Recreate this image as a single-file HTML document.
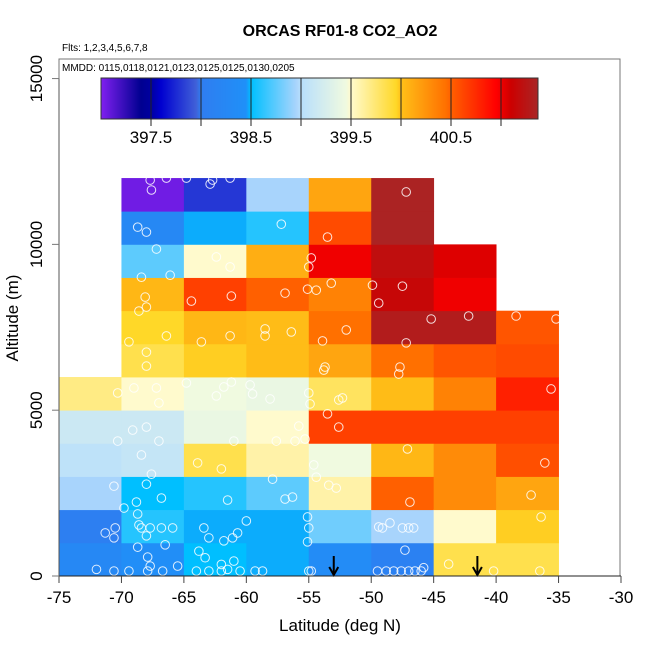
<!DOCTYPE html>
<html><head><meta charset="utf-8"><style>
body{margin:0;background:#fff}
svg text{font-family:"Liberation Sans",sans-serif}
</style></head><body>
<svg id="chart" width="650" height="650" xmlns="http://www.w3.org/2000/svg">
<g id="cells"></g>
<g id="pts"></g>
<g id="axes"></g>
<g id="cbar"></g>
<text x="340" y="36" text-anchor="middle" font-size="16" font-weight="bold">ORCAS RF01-8 CO2_AO2</text>
<text x="62" y="51" font-size="10">Flts: 1,2,3,4,5,6,7,8</text>
<text x="62" y="71" font-size="10">MMDD: 0115,0118,0121,0123,0125,0125,0130,0205</text>
<text x="340" y="631" text-anchor="middle" font-size="17">Latitude (deg N)</text>
<text x="18" y="318" text-anchor="middle" font-size="17" transform="rotate(-90 18 318)">Altitude (m)</text>
</svg>
<script>
const latBins=[-75,-70,-65,-60,-55,-50,-45,-40];
const altBins=[0,1000,2000,3000,4000,5000,6000,7000,8000,9000,10000,11000];
const colM75=[398.25,398.05,398.95,399.05,399.15,399.7];
const colM70=[398.4,398.6,398.5,399.1,399.15,399.5,399.85,399.95,400.05,398.75,398.25,397.05];
const colM65=[398.5,398.48,398.6,399.85,399.4,399.45,399.97,400.05,400.65,399.5,398.48,397.8];
const colM60=[398.48,398.48,398.75,399.6,399.5,399.4,400.02,400.02,400.5,400.1,398.6,398.95];
const colM55=[398.35,398.8,399.6,399.45,400.65,399.8,400.15,400.45,400.35,401.0,400.6,400.15];
const colM50=[398.1,398.95,400.5,400.05,400.65,400.02,400.45,401.3,401.15,401.2,401.35,401.35];
const colM45=[399.85,399.5,400.3,400.3,400.65,400.35,400.55,401.3,401.0,401.05];
const colM40=[399.85,399.97,400.15,400.58,400.65,400.8,400.6,400.55];
const cellValues=[colM75,colM70,colM65,colM60,colM55,colM50,colM45,colM40];
const ptLat=[-67.6,-67.7,-66.4,-62.9,-62.7,-61.3,-64.8,-68.7,-68.0,-57.2,-53.5,-47.2,-67.2,-62.4,-61.3,-68.4,-66.1,-54.8,-55.0,-53.2,-68.1,-68.0,-64.4,-61.2,-56.9,-55.1,-54.4,-49.9,-49.4,-47.5,-45.2,-42.2,-38.4,-35.2,-68.6,-69.4,-66.4,-63.6,-61.3,-58.5,-58.5,-56.4,-52.0,-53.9,-47.2,-68.0,-68.0,-47.7,-47.8,-53.7,-53.8,-35.6,-70.3,-69.0,-67.2,-67.0,-64.8,-62.4,-61.8,-61.2,-59.7,-59.5,-58.1,-55.0,-54.9,-52.6,-52.3,-53.5,-52.6,-70.3,-69.1,-68.0,-67.0,-68.4,-61.0,-57.6,-56.1,-55.8,-55.3,-54.6,-47.1,-36.1,-70.6,-68.8,-68.0,-67.6,-66.8,-63.9,-62.0,-61.5,-57.9,-56.9,-56.3,-54.4,-53.4,-52.8,-46.9,-37.2,-36.4,-69.8,-71.3,-70.6,-70.5,-68.7,-68.6,-68.4,-67.7,-66.8,-65.9,-68.0,-66.5,-63.4,-63.0,-61.8,-61.1,-60.7,-60.0,-55.1,-55.0,-55.1,-49.4,-49.1,-48.5,-47.5,-47.0,-46.6,-47.3,-68.7,-67.9,-63.8,-63.3,-62.0,-61.0,-72.0,-70.6,-69.4,-67.9,-67.7,-66.7,-65.5,-64.0,-63.0,-62.0,-61.5,-60.5,-59.3,-58.7,-55.0,-54.8,-49.5,-48.8,-48.2,-47.6,-47.0,-46.5,-46.0,-45.8,-43.8,-40.2,-36.5];
const ptAlt=[11640,11940,12000,11820,11940,12000,12000,10520,10370,10610,10220,11580,9860,9620,9320,9010,9070,9590,9320,8830,8410,8110,8290,8440,8530,8650,8620,8770,8230,8740,7750,7840,7840,7750,7990,7060,7240,7060,7240,7450,7240,7360,7420,7090,7030,6750,6330,6300,6090,6300,6210,5640,5520,5670,5670,5220,5820,5430,5700,5850,5760,5490,5340,5520,5190,5310,5370,4890,4490,4070,4400,4490,4070,3650,4070,4070,4070,4520,4130,3350,3830,3410,2710,2230,2770,3070,2350,3410,3230,2290,2920,2320,2380,2980,2740,2650,2230,2440,1780,2050,1300,1150,1450,1870,1540,1450,1450,1450,1450,1210,940,1450,1150,1060,1150,1300,1660,1780,1450,1030,1480,1450,1600,1450,1450,1450,780,870,570,750,550,350,450,200,150,150,150,300,150,300,150,150,150,200,150,150,150,150,150,150,150,150,150,150,150,150,250,360,150,150];
const arrowLat=[-53,-41.5];
const xTicks=[-75,-70,-65,-60,-55,-50,-45,-40,-35,-30];
const yTicks=[0,5000,10000,15000];
const cbTicks=[397.5,398.5,399.5,400.5];
const cbBounds=[397.5,398,398.5,399,399.5,400,400.5,401];
const cbStops=[[397.0,'#8020f0'],[397.4,'#000090'],[397.5,'#0000a0'],[397.6,'#0000d0'],[397.95,'#4060d8'],[398.0,'#2f7df0'],[398.45,'#1f90f8'],[398.5,'#00bfff'],[398.95,'#a8d4fc'],[399.0,'#b8dffc'],[399.45,'#f0fae0'],[399.5,'#fffacd'],[399.95,'#ffd828'],[400.0,'#ffc018'],[400.45,'#ff7000'],[400.5,'#ff6000'],[400.95,'#ff0000'],[401.0,'#f00000'],[401.1,'#cc0000'],[401.4,'#a52a2a']];
const cbMin=397.0,cbMax=401.4;

const X=v=>59+(v+75)*(562/45);
const Y=v=>576-v*(517/15590);
const CX=v=>101+(v-cbMin)*100;
function hex(h){return [1,3,5].map(i=>parseInt(h.substr(i,2),16));}
function color(v){
  v=Math.max(cbMin,Math.min(cbMax,v));
  for(let i=0;i<cbStops.length-1;i++){const[a,ca]=cbStops[i],[b,cb]=cbStops[i+1];
    if(v<=b){const t=(v-a)/(b-a),A=hex(ca),B=hex(cb);return 'rgb('+A.map((c,k)=>Math.round(c+(B[k]-c)*t)).join(',')+')';}}
  return cbStops[cbStops.length-1][1];
}
const NS='http://www.w3.org/2000/svg';
function mk(tag,attrs,parent){const e=document.createElementNS(NS,tag);for(const k in attrs)e.setAttribute(k,attrs[k]);parent.appendChild(e);return e;}
const gC=document.getElementById('cells');
cellValues.forEach((col,i)=>{col.forEach((v,j)=>{
  const x0=X(latBins[i]),x1=X(latBins[i]+5),y0=Y(altBins[j]+1000),y1=Y(altBins[j]);
  const r=mk('rect',{x:x0,y:y0,width:x1-x0+0.4,height:y1-y0+0.4,fill:color(v)},gC);
  
  
});});
const gP=document.getElementById('pts');
ptLat.forEach((la,i)=>{
  const c=mk('circle',{cx:X(la),cy:Y(ptAlt[i]),r:4.3,fill:'none',stroke:'#fff','stroke-opacity':0.85,'stroke-width':1},gP);
  
  
});
arrowLat.forEach(la=>{
  const g=mk('g',{stroke:'#000','stroke-width':2,fill:'none'},gP);
  
  
  const x=X(la);
  mk('line',{x1:x,y1:556,x2:x,y2:575},g);
  mk('polyline',{points:(x-4.5)+',567 '+x+',575 '+(x+4.5)+',567'},g);
});
const gA=document.getElementById('axes');
const box=mk('rect',{x:59,y:59,width:561,height:517,fill:'none',stroke:'#777','stroke-width':1},gA);


mk('line',{x1:59,y1:576,x2:X(-30),y2:576,stroke:'#222'},gA);
mk('line',{x1:59,y1:Y(0),x2:59,y2:Y(15000),stroke:'#555'},gA);
xTicks.forEach(t=>{
  mk('line',{x1:X(t),y1:576,x2:X(t),y2:583,stroke:'#444'},gA);
  const tx=mk('text',{x:X(t),y:603,'text-anchor':'middle','font-size':17},gA);tx.textContent=t;
  
  
});
yTicks.forEach(t=>{
  mk('line',{x1:52,y1:Y(t),x2:59,y2:Y(t),stroke:'#777'},gA);
  const tx=mk('text',{x:42,y:Y(t),'text-anchor':'middle','font-size':17,transform:'rotate(-90 42 '+Y(t)+')'},gA);tx.textContent=t;
  
  
});
const gB=document.getElementById('cbar');
for(let p=101;p<538;p++){mk('rect',{x:p,y:78,width:1.2,height:41,fill:color(cbMin+(p+0.5-101)/100)},gB);}
mk('rect',{x:101,y:78,width:437,height:41,fill:'none',stroke:'#333'},gB);
cbBounds.forEach(b=>{mk('line',{x1:CX(b),y1:78,x2:CX(b),y2:126,stroke:'#222'},gB);});
cbTicks.forEach(t=>{
  const tx=mk('text',{x:CX(t),y:143,'text-anchor':'middle','font-size':17},gB);tx.textContent=t.toFixed(1);
  
  
});
</script>
</body></html>
